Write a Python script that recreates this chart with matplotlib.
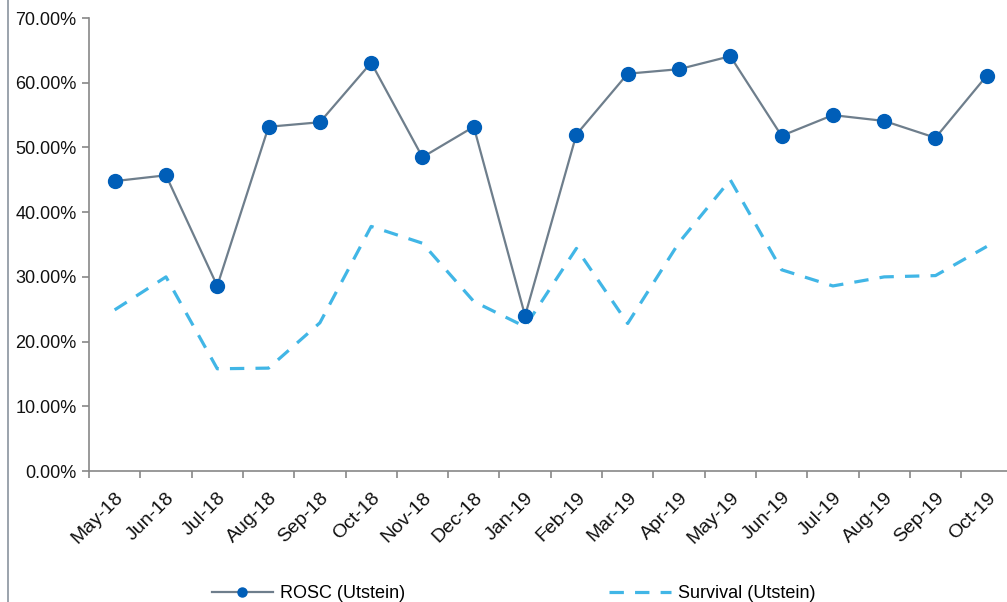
import matplotlib
matplotlib.use("Agg")
import matplotlib.pyplot as plt
from matplotlib.lines import Line2D
from matplotlib.ticker import FuncFormatter, FixedLocator

plt.rcParams['font.family'] = ['Liberation Sans', 'DejaVu Sans']

months = ['May-18', 'Jun-18', 'Jul-18', 'Aug-18', 'Sep-18', 'Oct-18', 'Nov-18', 'Dec-18',
          'Jan-19', 'Feb-19', 'Mar-19', 'Apr-19', 'May-19', 'Jun-19', 'Jul-19', 'Aug-19',
          'Sep-19', 'Oct-19']
rosc = [44.8, 45.7, 28.6, 53.2, 53.9, 63.1, 48.5, 53.2, 24.0, 52.0, 61.4, 62.1, 64.1,
        51.8, 55.0, 54.1, 51.5, 61.1]
survival = [24.9, 30.0, 15.8, 15.9, 22.9, 37.8, 35.2, 26.2, 22.3, 34.4, 22.8, 35.3, 45.0,
            31.1, 28.6, 30.0, 30.2, 34.7]

fig = plt.figure(figsize=(10.07, 6.02), dpi=100)
ax = fig.add_axes([0.0884, 0.2176, 0.917, 0.7524])

x = list(range(len(months)))
ax.plot(x, rosc, color='#6e7e8c', lw=1.6, marker='o', ms=10,
        mfc='#005eb8', mec='#005eb8', label='ROSC (Utstein)', zorder=3)
ax.plot(x, survival, color='#41b6e6', lw=2.3, dashes=(4.5, 3.5),
        label='Survival (Utstein)', zorder=2)

ax.set_xlim(-0.5, len(months) - 0.5)
ax.set_ylim(0, 70)
ax.set_yticks(range(0, 71, 10))
ax.yaxis.set_major_formatter(FuncFormatter(lambda v, p: '%.2f%%' % v))

# labels at the centres, tick marks on the category boundaries
ax.set_xticks(x)
ax.set_xticklabels(months, rotation=45, ha='right', rotation_mode='anchor',
                   fontsize=14, color='#111111')
ax.tick_params(axis='x', which='major', length=0, pad=13)
ax.xaxis.set_minor_locator(FixedLocator([i - 0.5 for i in range(len(months) + 1)]))
ax.tick_params(axis='x', which='minor', length=5, color='#888888', width=1.2)
ax.tick_params(axis='y', length=5, color='#888888', width=1.2, labelsize=13,
               labelcolor='#111111', pad=4)

for s in ['top', 'right']:
    ax.spines[s].set_visible(False)
for s in ['left', 'bottom']:
    ax.spines[s].set_color('#888888')
    ax.spines[s].set_linewidth(1.2)

# outer border on the left edge
fig.add_artist(Line2D([0.008, 0.008], [0, 1], transform=fig.transFigure,
                      color='#8a949e', lw=1.2))

fig.legend(loc='center', bbox_to_anchor=(0.51, 0.014), ncol=2, frameon=False,
           fontsize=13, handlelength=3.4, columnspacing=11.3, handletextpad=0.4,
           markerscale=0.65)

fig.savefig('out.png', dpi=100)
